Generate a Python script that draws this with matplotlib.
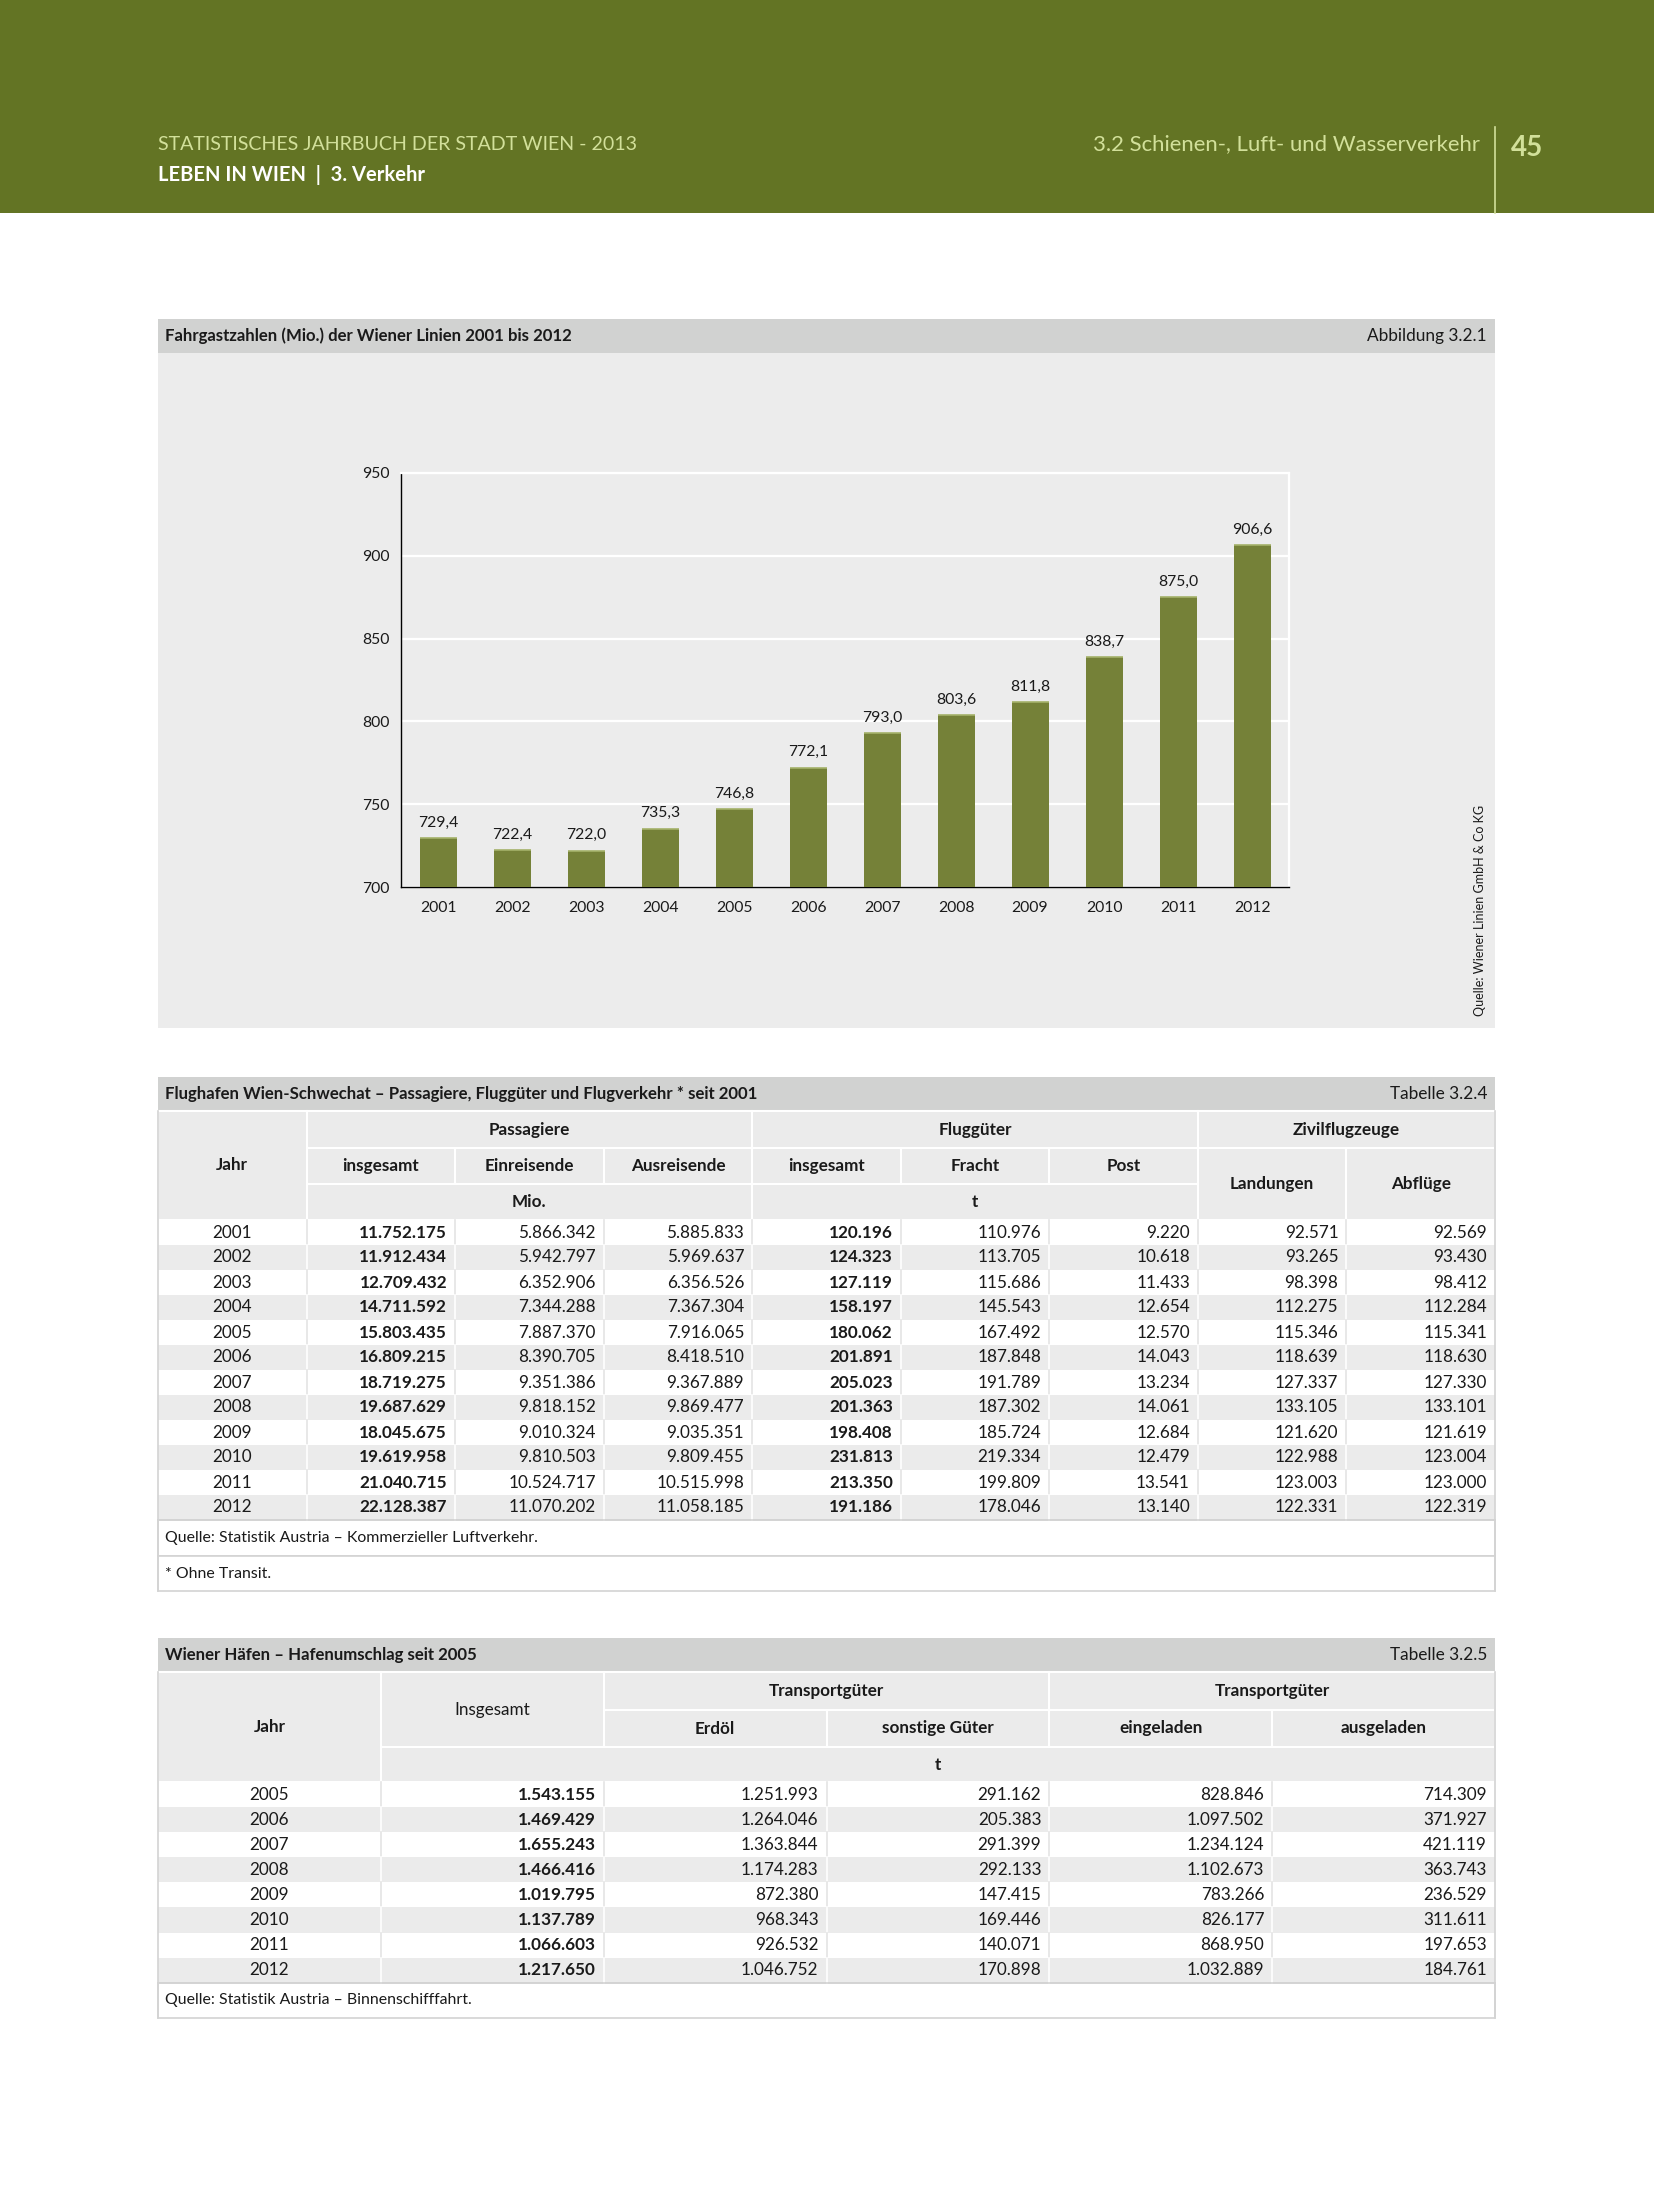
import matplotlib.pyplot as plt
from matplotlib.patches import Rectangle

# ---- data ---------------------------------------------------------------
chart_years = [2001, 2002, 2003, 2004, 2005, 2006, 2007, 2008, 2009, 2010, 2011, 2012]
fahrgaeste = [729.4, 722.4, 722.0, 735.3, 746.8, 772.1, 793.0, 803.6, 811.8, 838.7, 875.0, 906.6]

flug_years = [2001, 2002, 2003, 2004, 2005, 2006, 2007, 2008, 2009, 2010, 2011, 2012]
pass_insg = [11752175, 11912434, 12709432, 14711592, 15803435, 16809215,
             18719275, 19687629, 18045675, 19619958, 21040715, 22128387]
pass_ein = [5866342, 5942797, 6352906, 7344288, 7887370, 8390705,
            9351386, 9818152, 9010324, 9810503, 10524717, 11070202]
pass_aus = [5885833, 5969637, 6356526, 7367304, 7916065, 8418510,
            9367889, 9869477, 9035351, 9809455, 10515998, 11058185]
fg_insg = [120196, 124323, 127119, 158197, 180062, 201891, 205023, 201363, 198408, 231813, 213350, 191186]
fracht = [110976, 113705, 115686, 145543, 167492, 187848, 191789, 187302, 185724, 219334, 199809, 178046]
post = [9220, 10618, 11433, 12654, 12570, 14043, 13234, 14061, 12684, 12479, 13541, 13140]
landungen = [92571, 93265, 98398, 112275, 115346, 118639, 127337, 133105, 121620, 122988, 123003, 122331]
abfluege = [92569, 93430, 98412, 112284, 115341, 118630, 127330, 133101, 121619, 123004, 123000, 122319]

hafen_years = [2005, 2006, 2007, 2008, 2009, 2010, 2011, 2012]
hafen_insg = [1543155, 1469429, 1655243, 1466416, 1019795, 1137789, 1066603, 1217650]
erdoel = [1251993, 1264046, 1363844, 1174283, 872380, 968343, 926532, 1046752]
sonstige = [291162, 205383, 291399, 292133, 147415, 169446, 140071, 170898]
eingeladen = [828846, 1097502, 1234124, 1102673, 783266, 826177, 868950, 1032889]
ausgeladen = [714309, 371927, 421119, 363743, 236529, 311611, 197653, 184761]

# ---- style --------------------------------------------------------------
plt.rcParams['font.family'] = ['Lato', 'DejaVu Sans']
GREEN = '#637424'
PALE = '#d2e09a'
TITLE_GRAY = '#d1d2d1'
PANEL = '#ececec'
ROW_GRAY = '#ebebeb'
BORDER = '#d3d3d3'
BAR = '#758138'
TXT = '#1a1a1a'

W, H = 1654, 2205
X0, X1 = 158, 1495
fig = plt.figure(figsize=(W / 100, H / 100), dpi=100)
bg = fig.add_axes([0, 0, 1, 1])
bg.set_xlim(0, W)
bg.set_ylim(H, 0)
bg.axis('off')


def rect(x0, y0, x1, y1, fc, ec='none', lw=0):
    bg.add_patch(Rectangle((x0, y0), x1 - x0, y1 - y0, facecolor=fc, edgecolor=ec, linewidth=lw))


def fmt(v):
    return f"{v:,}".replace(',', '.')


# ---- page header ----------------------------------------------------------
rect(0, 0, W, 213, GREEN)
bg.text(158, 144, 'STATISTISCHES JAHRBUCH DER STADT WIEN - 2013', color=PALE, fontsize=14.1, va='center')
bg.text(158, 175, 'LEBEN IN WIEN  |  3. Verkehr', color='white', fontsize=14.5, fontweight='bold', va='center')
bg.text(1480, 144, '3.2 Schienen-, Luft- und Wasserverkehr', color=PALE, fontsize=15.9, ha='right', va='center')
bg.plot([1495, 1495], [127, 213], color=PALE, lw=1.2)
bg.text(1527, 148, '45', color=PALE, fontsize=20, fontweight='bold', ha='center', va='center')

# ---- chart panel ----------------------------------------------------------
rect(X0, 319, X1, 353, TITLE_GRAY)
rect(X0, 353, X1, 1028, PANEL)
bg.text(165, 336, 'Fahrgastzahlen (Mio.) der Wiener Linien 2001 bis 2012', fontsize=12.1,
        fontweight='bold', va='center', color=TXT)
bg.text(1487, 336, 'Abbildung 3.2.1', fontsize=12.4, ha='right', va='center', color=TXT)
bg.text(1480, 1016, 'Quelle: Wiener Linien GmbH & Co KG', fontsize=9, rotation=90,
        ha='center', va='bottom', color=TXT)

ax_l, ax_r, ax_t, ax_b = 401, 1289, 473, 887
ax = fig.add_axes([ax_l / W, 1 - ax_b / H, (ax_r - ax_l) / W, (ax_b - ax_t) / H])
ax.set_facecolor(PANEL)
xpos = list(range(len(chart_years)))
ax.bar(xpos, [v - 700 for v in fahrgaeste], width=0.5, bottom=700, color=BAR, zorder=3)
ax.hlines(fahrgaeste, [x - 0.25 for x in xpos], [x + 0.25 for x in xpos], color='#a4b26a', lw=1.2, zorder=4)
for x, v in zip(xpos, fahrgaeste):
    ax.annotate(f"{v:.1f}".replace('.', ','), (x, v), xytext=(0, 6), textcoords='offset points',
                ha='center', va='bottom', fontsize=11.3, color=TXT)
ax.set_xlim(-0.5, len(chart_years) - 0.5)
ax.set_ylim(700, 950)
ax.set_yticks([700, 750, 800, 850, 900, 950])
ax.set_xticks(xpos)
ax.set_xticklabels([str(y) for y in chart_years])
ax.tick_params(axis='both', length=0, labelsize=11.3, colors=TXT)
ax.tick_params(axis='y', pad=8)
ax.tick_params(axis='x', pad=10)
ax.yaxis.grid(True, color='white', lw=1.6)
ax.set_axisbelow(True)
for side in ['top', 'right']:
    ax.spines[side].set_color('white')
    ax.spines[side].set_linewidth(1.6)
for side in ['left', 'bottom']:
    ax.spines[side].set_color('black')
    ax.spines[side].set_linewidth(1.0)


# ---- tables ---------------------------------------------------------------
def draw_table(top, title, label, ncols, head_h, head_cells, columns, bold_cols, row_h, footers):
    xs = [X0 + i * (X1 - X0) / ncols for i in range(ncols + 1)]
    rect(X0, top, X1, top + 34, TITLE_GRAY)
    bg.text(X0 + 7, top + 17, title, fontsize=12.1, fontweight='bold', va='center', color=TXT)
    bg.text(X1 - 8, top + 17, label, fontsize=12.4, ha='right', va='center', color=TXT)
    hy = [top + 34]
    for h in head_h:
        hy.append(hy[-1] + h)
    for c0, c1, r0, r1, txt, bold in head_cells:
        rect(xs[c0], hy[r0], xs[c1], hy[r1], ROW_GRAY, ec='white', lw=1.5)
        bg.text((xs[c0] + xs[c1]) / 2, (hy[r0] + hy[r1]) / 2, txt, fontsize=12.3,
                fontweight='bold' if bold else 'normal', ha='center', va='center', color=TXT)
    y = hy[-1]
    nrows = len(columns[0])
    for i in range(nrows):
        grey = i % 2 == 1
        rect(X0, y, X1, y + row_h, ROW_GRAY if grey else 'white')
        for xv in xs[1:-1]:
            bg.plot([xv, xv], [y, y + row_h], color='white' if grey else '#e4e4e4', lw=1.2)
        for c, col in enumerate(columns):
            val = col[i]
            weight = 'bold' if c in bold_cols else 'normal'
            if c == 0:
                bg.text((xs[0] + xs[1]) / 2, y + row_h / 2, str(val), fontsize=12.3,
                        ha='center', va='center', color=TXT)
            else:
                bg.text(xs[c + 1] - 8, y + row_h / 2, fmt(val), fontsize=12.3, fontweight=weight,
                        ha='right', va='center', color=TXT)
        y += row_h
    data_end = y
    for txt, h in footers:
        rect(X0, y, X1, y + h, 'white', ec=BORDER, lw=1.2)
        bg.text(X0 + 7, y + h / 2, txt, fontsize=11.4, va='center', color=TXT)
        y += h
    bg.plot([X0, X0], [hy[0], y], color=BORDER, lw=1.2)
    bg.plot([X1, X1], [hy[0], y], color=BORDER, lw=1.2)
    bg.plot([X0, X1], [data_end, data_end], color=BORDER, lw=1.2)


head1 = [
    (0, 1, 0, 3, 'Jahr', True),
    (1, 4, 0, 1, 'Passagiere', True),
    (4, 7, 0, 1, 'Fluggüter', True),
    (7, 9, 0, 1, 'Zivilflugzeuge', True),
    (1, 2, 1, 2, 'insgesamt', True),
    (2, 3, 1, 2, 'Einreisende', True),
    (3, 4, 1, 2, 'Ausreisende', True),
    (4, 5, 1, 2, 'insgesamt', True),
    (5, 6, 1, 2, 'Fracht', True),
    (6, 7, 1, 2, 'Post', True),
    (7, 8, 1, 3, 'Landungen', True),
    (8, 9, 1, 3, 'Abflüge', True),
    (1, 4, 2, 3, 'Mio.', True),
    (4, 7, 2, 3, 't', True),
]
draw_table(1077, 'Flughafen Wien-Schwechat – Passagiere, Fluggüter und Flugverkehr * seit 2001',
           'Tabelle 3.2.4', 9, [37, 36, 36], head1,
           [flug_years, pass_insg, pass_ein, pass_aus, fg_insg, fracht, post, landungen, abfluege],
           {1, 4}, 25,
           [('Quelle: Statistik Austria – Kommerzieller Luftverkehr.', 36), ('* Ohne Transit.', 35)])

head2 = [
    (0, 1, 0, 3, 'Jahr', True),
    (1, 2, 0, 2, 'Insgesamt', False),
    (2, 4, 0, 1, 'Transportgüter', True),
    (4, 6, 0, 1, 'Transportgüter', True),
    (2, 3, 1, 2, 'Erdöl', True),
    (3, 4, 1, 2, 'sonstige Güter', True),
    (4, 5, 1, 2, 'eingeladen', True),
    (5, 6, 1, 2, 'ausgeladen', True),
    (1, 6, 2, 3, 't', True),
]
draw_table(1638, 'Wiener Häfen – Hafenumschlag seit 2005', 'Tabelle 3.2.5', 6, [38, 37, 35], head2,
           [hafen_years, hafen_insg, erdoel, sonstige, eingeladen, ausgeladen],
           {1}, 25.1,
           [('Quelle: Statistik Austria – Binnenschifffahrt.', 35)])

fig.savefig('out.png', dpi=100, facecolor='white')
